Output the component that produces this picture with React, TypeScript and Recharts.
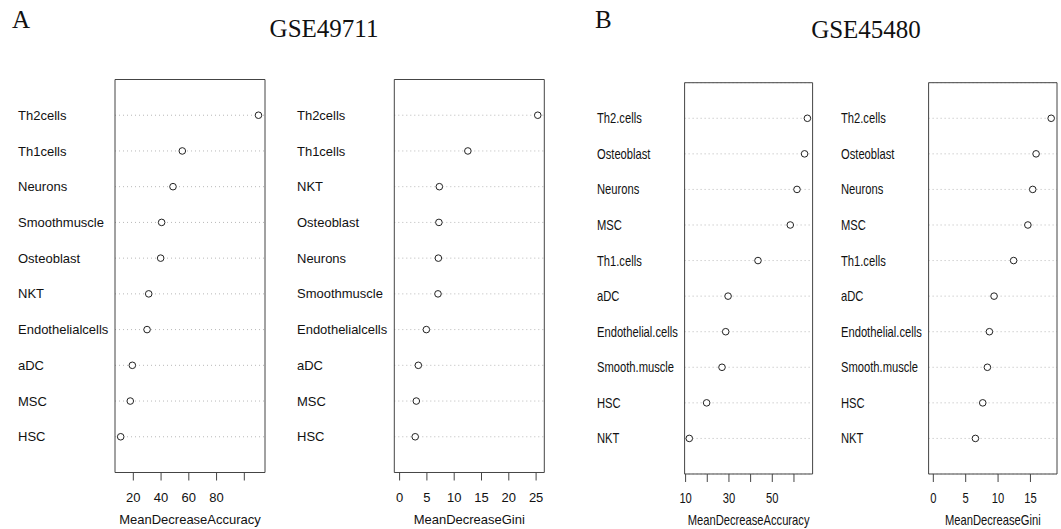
import React from 'react';
import { ScatterChart, Scatter, XAxis, YAxis, CartesianGrid, ReferenceArea } from 'recharts';

// GSE49711 (panel A)
const accNamesA = ['Th2cells', 'Th1cells', 'Neurons', 'Smoothmuscle', 'Osteoblast', 'NKT', 'Endothelialcells', 'aDC', 'MSC', 'HSC'];
const accValuesA = [110.2, 55.3, 48.6, 40.4, 39.7, 31.1, 29.9, 19.3, 17.8, 10.9];
const giniNamesA = ['Th2cells', 'Th1cells', 'NKT', 'Osteoblast', 'Neurons', 'Smoothmuscle', 'Endothelialcells', 'aDC', 'MSC', 'HSC'];
const giniValuesA = [25.3, 12.5, 7.28, 7.2, 7.1, 7.03, 4.9, 3.43, 3.06, 2.86];

// GSE45480 (panel B)
const accNamesB = ['Th2.cells', 'Osteoblast', 'Neurons', 'MSC', 'Th1.cells', 'aDC', 'Endothelial.cells', 'Smooth.muscle', 'HSC', 'NKT'];
const accValuesB = [66.2, 64.9, 61.4, 58.3, 43.4, 29.6, 28.5, 26.8, 19.7, 11.7];
const giniNamesB = ['Th2.cells', 'Osteoblast', 'Neurons', 'MSC', 'Th1.cells', 'aDC', 'Endothelial.cells', 'Smooth.muscle', 'HSC', 'NKT'];
const giniValuesB = [18.2, 15.87, 15.35, 14.6, 12.4, 9.38, 8.66, 8.35, 7.63, 6.5];

const accTicksA = [20, 40, 60, 80, 100];
const accLabelsA = [20, 40, 60, 80];
const giniTicksA = [0, 5, 10, 15, 20, 25];
const accTicksB = [10, 20, 30, 40, 50, 60];
const accLabelsB = [10, 30, 50];
const giniTicksB = [0, 5, 10, 15];

const CHART_TOP = 60;

type PanelProps = {
  names: string[];
  values: number[];
  domain: [number, number];
  ticks: number[];
  labels?: number[];
  title: string;
  labelX: number;
  pL: number;
  pR: number;
  pT: number;
  pB: number;
  fs: number;
  sx: number;
  tickGap: number;
  titleBase: number;
};

const Panel: React.FC<PanelProps> = (props) => {
  const { names, values, domain, ticks, labels, title, labelX, pL, pR, pT, pB, fs, sx, tickGap, titleBase } = props;
  const n = names.length;
  const data = names.map((name, i) => ({ name, x: values[i], y: n - i }));
  const left = labelX - 4;
  const width = pR - left + 3;
  const height = 469;
  const xh = 40;
  const mb = CHART_TOP + height - pB - xh;

  const YTick = (p: any) => (
    <text transform={`translate(4,${p.y}) scale(${sx},1)`} dy="0.355em" textAnchor="start" fontSize={fs} fill="#111">
      {names[n - p.payload.value]}
    </text>
  );

  const XTick = (p: any) => {
    const v = p.payload.value;
    if (labels && !labels.includes(v)) return <g />;
    return (
      <text transform={`translate(${p.x},${pB - CHART_TOP + 8 + tickGap}) scale(${sx},1)`} dy="0.71em" textAnchor="middle" fontSize={fs} fill="#111">
        {v}
      </text>
    );
  };

  const AxisTitle = (p: any) => {
    const vb = p.viewBox || {};
    const cx = (vb.x ?? 0) + (vb.width ?? 0) / 2;
    return (
      <text transform={`translate(${cx},${titleBase - CHART_TOP}) scale(${sx},1)`} textAnchor="middle" fontSize={fs} fill="#111">
        {title}
      </text>
    );
  };

  return (
    <div style={{ position: 'absolute', left, top: CHART_TOP }}>
      <ScatterChart width={width} height={height} style={{ overflow: 'visible' }}
        margin={{ top: pT - CHART_TOP, right: 3, bottom: mb, left: 0 }}>
        <CartesianGrid horizontal vertical={false} stroke="#b8b8b8" strokeDasharray="1 3" />
        <XAxis
          type="number"
          dataKey="x"
          domain={domain}
          allowDataOverflow
          ticks={ticks}
          interval={0}
          axisLine={false}
          tickSize={8}
          tickLine={{ stroke: '#444' }}
          tick={<XTick />}
          height={xh}
          label={{ content: <AxisTitle /> }}
        />
        <YAxis
          type="number"
          dataKey="y"
          domain={[0, n + 1]}
          allowDataOverflow
          ticks={names.map((_, i) => i + 1)}
          interval={0}
          axisLine={false}
          tickLine={false}
          width={pL - left}
          tick={<YTick />}
        />
        <ReferenceArea x1={domain[0]} x2={domain[1]} y1={0} y2={n + 1} fill="none" stroke="#444" strokeWidth={1} ifOverflow="visible" />
        <Scatter
          data={data}
          isAnimationActive={false}
          shape={(p: any) => <circle cx={p.cx} cy={p.cy} r={3.3} fill="#fff" stroke="#222" strokeWidth={1} />}
        />
      </ScatterChart>
    </div>
  );
};

const App: React.FC = () => {
  return (
    <div style={{ position: 'absolute', left: 0, top: 0, width: 1061, height: 529, overflow: 'hidden', background: '#fff', fontFamily: '"Liberation Sans", Arial, sans-serif' }}>
      <svg width={1061} height={60} style={{ position: 'absolute', left: 0, top: 0 }}>
        <g fontFamily='"Liberation Serif", "Times New Roman", serif' fontSize={25} fill="#111">
          <text x={12} y={28}>A</text>
          <text x={324} y={37} textAnchor="middle">GSE49711</text>
          <text x={595} y={28}>B</text>
          <text x={866} y={38} textAnchor="middle">GSE45480</text>
        </g>
      </svg>
      <Panel names={accNamesA} values={accValuesA} domain={[6.8, 114.9]} ticks={accTicksA} labels={accLabelsA}
        title="MeanDecreaseAccuracy" labelX={18} pL={115} pR={265} pT={79.5} pB={472.5}
        fs={13} sx={1} tickGap={12} titleBase={524} />
      <Panel names={giniNamesA} values={giniValuesA} domain={[-0.97, 26.5]} ticks={giniTicksA}
        title="MeanDecreaseGini" labelX={296.7} pL={394} pR={544} pT={79.5} pB={472.5}
        fs={13} sx={1} tickGap={12} titleBase={524} />
      <Panel names={accNamesB} values={accValuesB} domain={[9.54, 68.6]} ticks={accTicksB} labels={accLabelsB}
        title="MeanDecreaseAccuracy" labelX={596.7} pL={684.3} pR={812.3} pT={82.7} pB={474}
        fs={14} sx={0.8} tickGap={11.4} titleBase={525} />
      <Panel names={giniNamesB} values={giniValuesB} domain={[-0.73, 19.1]} ticks={giniTicksB}
        title="MeanDecreaseGini" labelX={840.7} pL={928.3} pR={1056.7} pT={82.7} pB={474}
        fs={14} sx={0.8} tickGap={11.4} titleBase={525} />
    </div>
  );
};

export default App;
